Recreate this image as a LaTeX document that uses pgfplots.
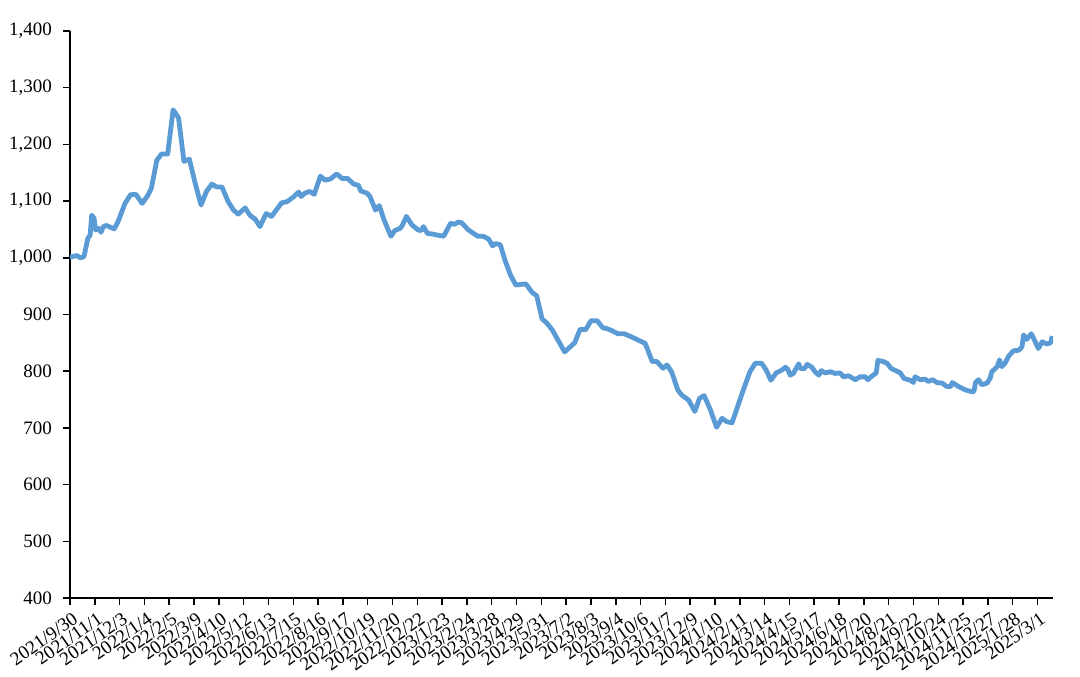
\documentclass[border=0pt]{standalone}
\usepackage{fontspec}
\setmainfont{Liberation Serif}
\usepackage{pgfplots}
\pgfplotsset{compat=1.18}
\definecolor{lineblue}{HTML}{5B9BD5}
\begin{document}
\begin{tikzpicture}
\begin{axis}[
  scale only axis, width=491.5pt, height=283.5pt,
  xmin=0, xmax=1268, ymin=400, ymax=1400,
  axis lines*=left,
  axis line style={line width=0.75pt, -},
  tick align=outside, major tick length=3.5pt,
  tick style={black, line width=0.75pt},
  ytick={400,500,...,1400},
  xtick={0,32,...,1248},
  xticklabels={2021/9/30,2021/11/1,2021/12/3,2022/1/4,2022/2/5,2022/3/9,2022/4/10,2022/5/12,2022/6/13,2022/7/15,2022/8/16,2022/9/17,2022/10/19,2022/11/20,2022/12/22,2023/1/23,2023/2/24,2023/3/28,2023/4/29,2023/5/31,2023/7/2,2023/8/3,2023/9/4,2023/10/6,2023/11/7,2023/12/9,2024/1/10,2024/2/11,2024/3/14,2024/4/15,2024/5/17,2024/6/18,2024/7/20,2024/8/21,2024/9/22,2024/10/24,2024/11/25,2024/12/27,2025/1/28,2025/3/1},
  yticklabel style={font=\fontsize{9.5}{11}\selectfont, xshift=-2pt},
  xticklabel style={font=\fontsize{9.5}{11}\selectfont, rotate=35, anchor=north east, inner sep=1pt, yshift=-2pt},
  /pgf/number format/1000 sep={,},
  /pgf/number format/assume math mode=true,
]
\addplot[lineblue, line width=2.4pt, line join=round, no markers] coordinates {
(0,1001) (9,1004) (13,1000) (18,1002) (23,1034) (26,1040) (28,1075) (31,1070) (33,1049) (37,1052) (40,1045) (43,1055) (47,1057) (57,1051) (62,1064) (71,1096) (78,1111) (85,1112) (93,1096) (100,1109) (105,1123) (112,1172) (118,1183) (126,1183) (133,1261) (140,1247) (147,1170) (154,1174) (161,1134) (169,1093) (176,1117) (183,1130) (189,1125) (196,1125) (204,1099) (211,1084) (217,1077) (226,1088) (232,1075) (239,1068) (245,1055) (253,1078) (260,1073) (273,1097) (280,1099) (288,1107) (295,1116) (298,1108) (303,1114) (309,1117) (315,1112) (323,1144) (329,1137) (336,1139) (344,1148) (351,1140) (358,1140) (366,1130) (372,1128) (375,1118) (383,1114) (387,1108) (394,1084) (399,1092) (405,1067) (414,1038) (419,1048) (426,1052) (429,1058) (434,1073) (441,1058) (449,1049) (453,1048) (456,1055) (461,1043) (467,1042) (474,1040) (482,1038) (491,1061) (496,1059) (501,1063) (505,1062) (514,1049) (526,1038) (533,1038) (540,1033) (545,1021) (549,1025) (555,1023) (561,996) (568,970) (575,952) (588,954) (596,939) (602,933) (609,892) (615,885) (622,873) (638,834) (651,850) (658,874) (665,873) (672,889) (680,889) (687,877) (695,874) (707,866) (715,866) (725,860) (742,849) (751,817) (757,817) (765,805) (770,811) (776,799) (784,767) (789,758) (798,749) (806,729) (812,752) (818,757) (826,732) (834,701) (841,717) (847,711) (854,709) (867,761) (877,799) (884,814) (892,814) (898,802) (904,784) (911,797) (917,801) (923,807) (926,803) (929,793) (933,796) (940,813) (942,805) (947,804) (951,812) (957,807) (961,799) (966,793) (969,801) (974,797) (981,799) (987,796) (993,797) (998,790) (1004,792) (1013,785) (1019,790) (1026,790) (1029,785) (1036,793) (1040,797) (1042,819) (1049,817) (1054,814) (1059,805) (1065,801) (1071,797) (1076,787) (1084,784) (1088,780) (1090,790) (1097,785) (1103,786) (1107,782) (1113,785) (1118,780) (1125,779) (1131,773) (1136,773) (1138,780) (1146,773) (1155,767) (1163,764) (1166,764) (1168,780) (1172,785) (1176,776) (1183,779) (1187,788) (1189,799) (1196,808) (1199,820) (1202,808) (1206,814) (1211,827) (1217,836) (1224,837) (1228,843) (1230,864) (1234,856) (1240,866) (1243,858) (1249,840) (1254,852) (1260,848) (1265,850) (1267,862)
};
\end{axis}
\pgfresetboundingbox
\path[use as bounding box] ([shift={(-35pt,-39.5pt)}]current axis.south west) rectangle ([shift={(13.5pt,15.5pt)}]current axis.north east);
\end{tikzpicture}
\end{document}
